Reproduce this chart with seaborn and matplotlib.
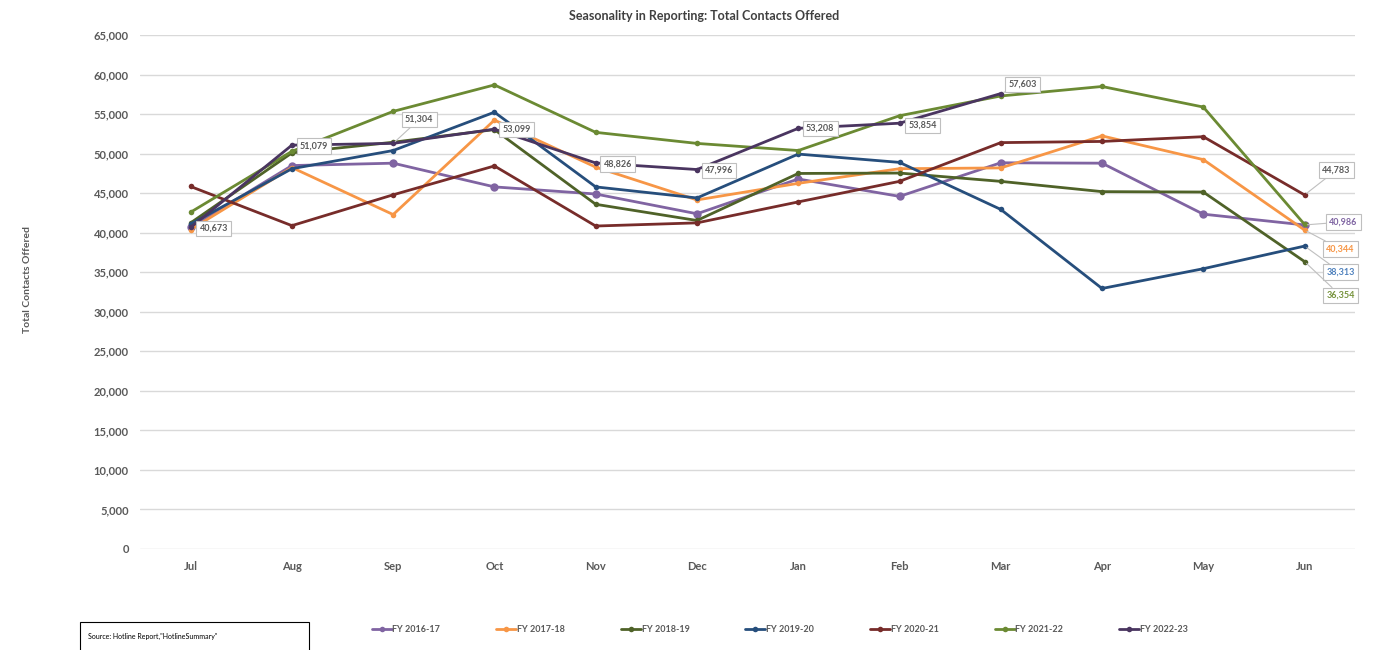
import numpy as np
import pandas as pd
import matplotlib
matplotlib.use('Agg')
import matplotlib.pyplot as plt
from matplotlib.patches import Rectangle
from matplotlib.lines import Line2D
import seaborn as sns

months = ['Jul', 'Aug', 'Sep', 'Oct', 'Nov', 'Dec', 'Jan', 'Feb', 'Mar', 'Apr', 'May', 'Jun']

fy_2016_17 = [40700, 48500, 48800, 45800, 44900, 42400, 46800, 44600, 48850, 48800, 42350, 40986]
fy_2017_18 = [40400, 48250, 42300, 54250, 48300, 44150, 46250, 48100, 48200, 52250, 49250, 40344]
fy_2018_19 = [41250, 50100, 51450, 53050, 43600, 41550, 47500, 47550, 46500, 45200, 45150, 36354]
fy_2019_20 = [41100, 48100, 50400, 55250, 45800, 44400, 49950, 48900, 42950, 32950, 35450, 38313]
fy_2020_21 = [45850, 40900, 44800, 48450, 40850, 41250, 43900, 46500, 51400, 51550, 52150, 44783]
fy_2021_22 = [42600, 50300, 55350, 58700, 52700, 51300, 50400, 54800, 57300, 58500, 55900, 41050]
fy_2022_23 = [40673, 51079, 51304, 53099, 48826, 47996, 53208, 53854, 57603, np.nan, np.nan, np.nan]

series = {
    'FY 2016-17': fy_2016_17,
    'FY 2017-18': fy_2017_18,
    'FY 2018-19': fy_2018_19,
    'FY 2019-20': fy_2019_20,
    'FY 2020-21': fy_2020_21,
    'FY 2021-22': fy_2021_22,
    'FY 2022-23': fy_2022_23,
}
colors = {
    'FY 2016-17': '#8064A2',
    'FY 2017-18': '#F79646',
    'FY 2018-19': '#4F6228',
    'FY 2019-20': '#264E7C',
    'FY 2020-21': '#772C2A',
    'FY 2021-22': '#6B8A33',
    'FY 2022-23': '#4A3560',
}
msize = {k: 4 for k in series}
msize['FY 2016-17'] = 6

rows = []
for name, vals in series.items():
    for i, v in enumerate(vals):
        rows.append({'Year': name, 'pos': i, 'Month': months[i], 'Contacts': v})
df = pd.DataFrame(rows)

sns.set_style("white")
plt.rcParams['font.family'] = ['Lato', 'DejaVu Sans']
grey = '#595959'

fig = plt.figure(figsize=(14, 6.5), dpi=100)
ax = fig.add_axes([0.1, 0.1554, 0.868, 0.7906])

for name in series:
    d = df[df['Year'] == name].dropna()
    sns.lineplot(data=d, x='pos', y='Contacts', ax=ax, color=colors[name], marker='o',
                 markersize=msize[name], markeredgewidth=0, linewidth=2, legend=False,
                 sort=False, zorder=3)

ax.set_xlim(-0.5, 11.5)
ax.set_ylim(0, 65000)
ax.set_yticks(np.arange(0, 65001, 5000))
ax.set_yticklabels([f'{v:,}' for v in np.arange(0, 65001, 5000)])
ax.set_xticks(range(len(months)))
ax.set_xticklabels(months)
ax.tick_params(axis='both', length=0, labelsize=8, labelcolor=grey, pad=8)
ax.tick_params(axis='x', pad=9)
for lbl in ax.get_xticklabels() + ax.get_yticklabels():
    lbl.set_fontweight('bold')
ax.grid(axis='y', color='#D9D9D9', linewidth=1)
ax.set_axisbelow(True)
for s in ax.spines.values():
    s.set_visible(False)
ax.set_xlabel('')
ax.set_ylabel('')

fig.text(0.0195, 0.57, 'Total Contacts Offered', rotation=90, ha='center', va='center',
         fontsize=7.5, fontweight='bold', color=grey)
fig.text(0.503, 0.975, 'Seasonality in Reporting: Total Contacts Offered', ha='center', va='center',
         fontsize=9, fontweight='bold', color='#404040')

# data labels: (series, month index, text colour, offset px, leader line)
labels = [
    ('FY 2022-23', 0, grey, (23, -1), False),
    ('FY 2022-23', 1, grey, (22, -1), False),
    ('FY 2022-23', 2, grey, (26, 24), True),
    ('FY 2022-23', 3, grey, (22, 0), False),
    ('FY 2022-23', 4, grey, (22, -1), False),
    ('FY 2022-23', 5, grey, (22, -1), False),
    ('FY 2022-23', 6, grey, (22, 0), False),
    ('FY 2022-23', 7, grey, (23, -2), False),
    ('FY 2022-23', 8, grey, (22, 9), True),
    ('FY 2020-21', 11, grey, (32, 25), True),
    ('FY 2016-17', 11, '#7F64A2', (39, 3), True),
    ('FY 2017-18', 11, '#F79646', (36, -19), True),
    ('FY 2019-20', 11, '#4F81BD', (36, -26), True),
    ('FY 2018-19', 11, '#77933C', (36, -34), True),
]
for name, i, tc, off, lead in labels:
    v = series[name][i]
    ap = dict(arrowstyle='-', color='#BFBFBF', lw=0.8, shrinkA=0, shrinkB=2) if lead else None
    ax.annotate(f'{v:,.0f}', xy=(i, v), xytext=off, textcoords='offset pixels',
                ha='center', va='center', fontsize=6.5, fontweight='bold', color=tc,
                bbox=dict(boxstyle='square,pad=0.35', fc='white', ec='#BFBFBF', lw=0.8),
                arrowprops=ap, zorder=5)

handles = [Line2D([0], [0], color=colors[n], lw=2, marker='o', markersize=4,
                  markeredgewidth=0) for n in series]
fig.legend(handles, list(series.keys()), loc='center', bbox_to_anchor=(0.557, 0.031), ncol=7,
           frameon=False, handlelength=2.2, handletextpad=0.1, columnspacing=6.2,
           labelcolor=grey, prop={'weight': 'bold', 'size': 6.5})

fig.patches.append(Rectangle((0.057, -0.01), 0.164, 0.053, transform=fig.transFigure,
                             fill=False, edgecolor='black', linewidth=0.8))
fig.text(0.063, 0.021, 'Source: Hotline Report,"HotlineSummary"', fontsize=5, color='black',
         va='center')

fig.savefig('out.png', dpi=100)
